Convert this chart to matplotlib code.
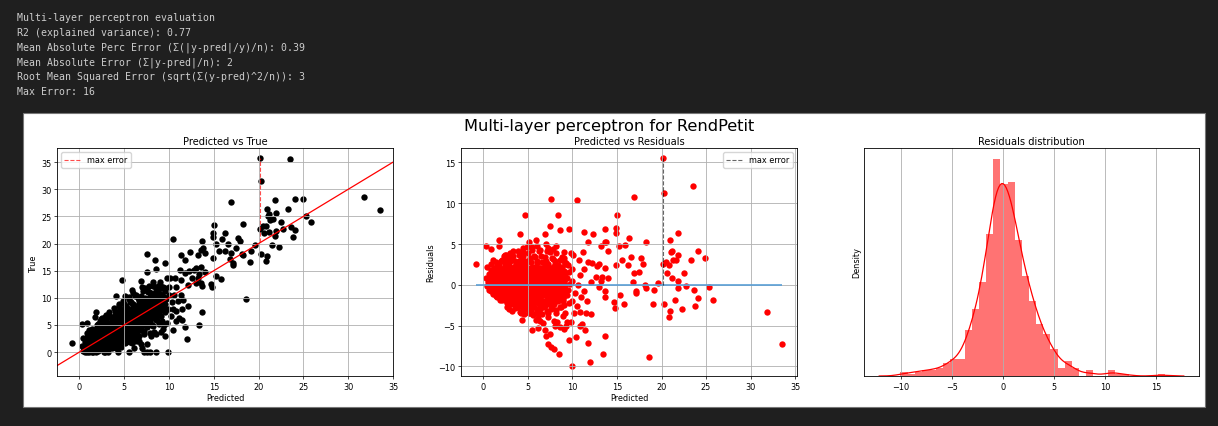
import matplotlib
matplotlib.use("Agg")
import matplotlib.pyplot as plt
from matplotlib.patches import Rectangle
import numpy as np
import seaborn as sns

# printed report above the figure
report_lines = [
    "Multi-layer perceptron evaluation",
    "R2 (explained variance): 0.77",
    "Mean Absolute Perc Error (Σ(|y-pred|/y)/n): 0.39",
    "Mean Absolute Error (Σ|y-pred|/n): 2",
    "Root Mean Squared Error (sqrt(Σ(y-pred)^2/n)): 3",
    "Max Error: 16",
]

# dense cloud, predicted vs true
pred_core = [
    0.6, 0.8, 0.4, 0.7, 0.5, 0.8, 0.3, 0.6, 0.9, 0.4, 0.7,
    1.1, 1.0, 1.2, 0.9, 1.1, 1.0, 1.2, 0.9, 1.1, 1.0, 1.2, 0.9, 1.1, 1.3,
    1.5, 1.4, 1.6, 1.5, 1.3, 1.7, 1.5, 1.4, 1.6, 1.5, 1.3, 1.7, 1.5, 1.4, 1.6,
    2.1, 1.9, 2.0, 2.2, 1.9, 2.1, 2.0, 2.2, 1.8, 2.0, 2.1, 1.9, 2.2, 2.0, 1.8, 2.1, 2.3,
    2.6, 2.4, 2.5, 2.7, 2.4, 2.6, 2.5, 2.3, 2.7, 2.5, 2.4, 2.6, 2.5, 2.3, 2.7, 2.5, 2.4, 2.6, 2.5,
    2.9, 3.1, 3.0, 2.8, 3.2, 3.0, 2.9, 3.1, 3.0, 2.8, 3.2, 3.0, 2.9, 3.1, 3.0, 2.8, 3.2, 3.0, 2.9, 3.1, 3.0,
    3.6, 3.4, 3.5, 3.7, 3.4, 3.6, 3.5, 3.3, 3.7, 3.5, 3.4, 3.6, 3.5, 3.3, 3.7, 3.5, 3.4, 3.6, 3.5, 3.3,
    4.1, 3.9, 4.0, 4.2, 3.9, 4.1, 4.0, 3.8, 4.2, 4.0, 3.9, 4.1, 4.0, 3.8, 4.2, 4.0, 3.9, 4.1, 4.0, 3.8, 4.2, 4.0, 3.9,
    4.6, 4.4, 4.5, 4.7, 4.4, 4.6, 4.5, 4.3, 4.7, 4.5, 4.4, 4.6, 4.5, 4.3, 4.7, 4.5, 4.4, 4.6, 4.5, 4.3, 4.7, 4.5, 4.4,
    5.1, 4.9, 5.0, 5.2, 4.9, 5.1, 5.0, 4.8, 5.2, 5.0, 4.9, 5.1, 5.0, 4.8, 5.2, 5.0, 4.9, 5.1, 5.0, 4.8, 5.2, 5.0, 4.9, 5.1,
    5.6, 5.4, 5.5, 5.7, 5.4, 5.6, 5.5, 5.3, 5.7, 5.5, 5.4, 5.6, 5.5, 5.3, 5.7, 5.5, 5.4, 5.6, 5.5, 5.3, 5.7, 5.5,
    6.1, 5.9, 6.0, 6.2, 5.9, 6.1, 6.0, 5.8, 6.2, 6.0, 5.9, 6.1, 6.0, 5.8, 6.2, 6.0, 5.9, 6.1, 6.0, 5.8, 6.2, 6.0,
    6.6, 6.4, 6.5, 6.7, 6.4, 6.6, 6.5, 6.3, 6.7, 6.5, 6.4, 6.6, 6.5, 6.3, 6.7, 6.5, 6.4, 6.6, 6.5, 6.3,
    7.1, 6.9, 7.0, 7.2, 6.9, 7.1, 7.0, 6.8, 7.2, 7.0, 6.9, 7.1, 7.0, 6.8, 7.2, 7.0, 6.9, 7.1,
    7.6, 7.4, 7.5, 7.7, 7.4, 7.6, 7.5, 7.3, 7.7, 7.5, 7.4, 7.6, 7.5, 7.3, 7.7, 7.5,
    8.1, 7.9, 8.0, 8.2, 7.9, 8.1, 8.0, 7.8, 8.2, 8.0, 7.9, 8.1, 8.0, 7.8, 8.2,
    8.6, 8.4, 8.5, 8.7, 8.4, 8.6, 8.5, 8.3, 8.7, 8.5, 8.4, 8.6,
    9.1, 8.9, 9.0, 9.2, 8.9, 9.1, 9.0, 8.8, 9.2, 9.0,
    9.6, 9.4, 9.5, 9.7, 9.4, 9.6, 9.5,
]
true_core = [
    0.0, 0.0, 0.2, 0.7, 0.8, 1.3, 1.2, 1.9, 2.7, 2.6, 0.4,
    0.0, 0.4, 0.9, 0.8, 1.2, 1.3, 1.8, 1.8, 2.3, 2.6, 3.3, 3.5, 4.1, 0.8,
    0.0, 0.4, 0.9, 1.1, 1.1, 1.7, 1.7, 1.8, 2.3, 2.5, 2.7, 3.5, 3.8, 4.2, 0.7,
    0.2, 0.5, 1.0, 1.5, 1.4, 1.8, 1.9, 2.3, 2.1, 2.5, 2.9, 3.0, 3.7, 3.9, 4.2, 5.1, 5.8,
    0.4, 0.7, 1.2, 1.7, 1.6, 2.0, 2.1, 2.1, 2.7, 2.7, 2.8, 3.2, 3.4, 3.5, 4.3, 4.5, 4.9, 5.7, 6.2,
    0.0, 0.7, 1.0, 1.2, 1.9, 2.0, 2.1, 2.5, 2.6, 2.6, 3.2, 3.2, 3.3, 3.8, 4.0, 4.1, 4.9, 5.2, 5.6, 6.4, 6.9,
    0.8, 1.1, 1.6, 2.2, 2.2, 2.7, 2.8, 2.8, 3.4, 3.4, 3.5, 3.9, 4.0, 4.1, 4.8, 4.9, 5.2, 5.9, 6.4, 6.8,
    0.8, 1.2, 1.8, 2.4, 2.4, 2.9, 3.0, 3.0, 3.6, 3.6, 3.7, 4.1, 4.2, 4.2, 4.8, 4.9, 5.1, 5.7, 6.0, 6.3, 7.2, 7.6, 8.1,
    1.0, 1.4, 2.0, 2.6, 2.7, 3.2, 3.4, 3.4, 4.0, 4.0, 4.1, 4.5, 4.6, 4.6, 5.2, 5.3, 5.5, 6.1, 6.4, 6.7, 7.6, 8.0, 8.4,
    1.7, 2.0, 2.5, 3.1, 3.1, 3.6, 3.8, 3.8, 4.4, 4.4, 4.5, 4.9, 5.0, 5.0, 5.7, 5.8, 6.1, 6.7, 7.1, 7.5, 8.5, 8.9, 9.5, 10.3,
    1.9, 2.3, 2.9, 3.5, 3.5, 4.0, 4.2, 4.2, 4.8, 4.8, 4.9, 5.3, 5.4, 5.4, 6.1, 6.2, 6.5, 7.2, 7.7, 8.1, 9.2, 9.8,
    2.0, 2.4, 3.1, 3.8, 3.9, 4.4, 4.6, 4.7, 5.3, 5.3, 5.4, 5.8, 5.9, 6.0, 6.7, 6.9, 7.3, 8.1, 8.7, 9.2, 10.4, 10.8,
    3.0, 3.4, 4.0, 4.7, 4.8, 5.3, 5.5, 5.5, 6.1, 6.1, 6.2, 6.6, 6.8, 6.9, 7.7, 8.0, 8.5, 9.4, 10.0, 10.6,
    3.9, 4.3, 4.9, 5.5, 5.6, 6.1, 6.3, 6.3, 6.9, 6.9, 7.1, 7.6, 7.9, 8.2, 9.2, 9.7, 10.3, 11.2,
    4.6, 5.0, 5.6, 6.2, 6.3, 6.8, 7.0, 7.1, 7.8, 7.9, 8.2, 8.9, 9.4, 9.9, 11.0, 11.5,
    5.0, 5.5, 6.2, 6.9, 7.0, 7.5, 7.7, 7.8, 8.5, 8.7, 9.1, 9.9, 10.5, 11.0, 12.1,
    5.9, 6.4, 7.1, 7.8, 7.9, 8.4, 8.7, 8.9, 9.8, 10.2, 10.8, 11.7,
    6.6, 7.2, 8.0, 8.7, 8.9, 9.6, 10.1, 10.6, 11.8, 12.3,
    7.4, 8.1, 8.9, 9.8, 10.2, 11.2, 11.9,
]

# points hidden inside the solid cloud (they give the residual histogram its shape)
pred_inner = [
    1.3, 1.6, 1.4, 1.7, 1.5, 1.3, 1.6, 1.4, 1.7, 1.5, 1.3, 1.6, 1.4, 1.7,
    1.8, 2.1, 1.9, 2.2, 2.0, 1.8, 2.1, 1.9, 2.2, 2.0, 1.8, 2.1, 1.9, 2.2, 2.0,
    2.3, 2.6, 2.4, 2.7, 2.5, 2.3, 2.6, 2.4, 2.7, 2.5, 2.3, 2.6, 2.4, 2.7,
    2.8, 3.1, 2.9, 3.2, 3.0, 2.8, 3.1, 2.9, 3.2, 3.0, 2.8, 3.1, 2.9, 3.2, 3.0,
    3.3, 3.6, 3.4, 3.7, 3.5, 3.3, 3.6, 3.4, 3.7, 3.5, 3.3, 3.6, 3.4, 3.7,
    3.8, 4.1, 3.9, 4.2, 4.0, 3.8, 4.1, 3.9, 4.2, 4.0, 3.8, 4.1, 3.9, 4.2, 4.0,
    4.3, 4.6, 4.4, 4.7, 4.5, 4.3, 4.6, 4.4, 4.7, 4.5, 4.3, 4.6, 4.4, 4.7,
    4.8, 5.1, 4.9, 5.2, 5.0, 4.8, 5.1, 4.9, 5.2, 5.0, 4.8, 5.1, 4.9, 5.2, 5.0,
    5.3, 5.6, 5.4, 5.7, 5.5, 5.3, 5.6, 5.4, 5.7, 5.5, 5.3, 5.6, 5.4, 5.7,
    5.8, 6.1, 5.9, 6.2, 6.0, 5.8, 6.1, 5.9, 6.2, 6.0, 5.8, 6.1, 5.9, 6.2, 6.0,
    6.3, 6.6, 6.4, 6.7, 6.5, 6.3, 6.6, 6.4, 6.7, 6.5, 6.3, 6.6, 6.4, 6.7,
    6.8, 7.1, 6.9, 7.2, 7.0, 6.8, 7.1, 6.9, 7.2, 7.0, 6.8, 7.1, 6.9, 7.2, 7.0,
    7.3, 7.6, 7.4, 7.7, 7.5, 7.3, 7.6, 7.4, 7.7, 7.5, 7.3, 7.6, 7.4, 7.7,
    7.8, 8.1, 7.9, 8.2, 8.0, 7.8, 8.1, 7.9, 8.2, 8.0, 7.8, 8.1, 7.9, 8.2, 8.0,
    8.3, 8.6, 8.4, 8.7, 8.5, 8.3, 8.6, 8.4, 8.7, 8.5, 8.3, 8.6, 8.4, 8.7,
    8.8, 9.1, 8.9, 9.2, 9.0, 8.8, 9.1, 8.9, 9.2, 9.0, 8.8, 9.1, 8.9, 9.2, 9.0,
]
true_inner = [
    0.45, 1.05, 1.1, 1.6, 1.75, 1.85, 2.4, 2.45, 3.0, 3.15, 3.4, 0.3, 0.0, 1.8,
    1.0, 1.6, 0.8, 2.15, 2.3, 2.4, 2.95, 2.9, 3.55, 3.7, 4.0, 0.7, 0.0, 0.7, 4.9,
    1.45, 2.05, 2.1, 2.6, 2.75, 2.85, 3.4, 3.45, 4.0, 4.15, 4.4, 1.3, 0.5, 0.0,
    2.0, 2.6, 1.8, 3.15, 3.3, 3.4, 3.95, 3.9, 4.55, 4.7, 5.0, 1.7, 0.9, 0.0, 5.9,
    2.45, 3.05, 3.1, 3.6, 3.75, 3.85, 4.4, 4.45, 5.0, 5.15, 5.4, 2.3, 1.5, 1.0,
    3.0, 3.6, 2.8, 4.15, 4.3, 4.4, 4.95, 4.9, 5.55, 5.7, 6.0, 2.7, 1.9, 0.8, 6.9,
    3.45, 4.05, 4.1, 4.6, 4.75, 4.85, 5.4, 5.45, 6.0, 6.15, 6.4, 3.3, 2.5, 2.0,
    4.0, 4.6, 3.8, 5.15, 5.3, 5.4, 5.95, 5.9, 6.55, 6.7, 7.0, 3.7, 2.9, 1.8, 7.9,
    4.45, 5.05, 5.1, 5.6, 5.75, 5.85, 6.4, 6.45, 7.0, 7.15, 7.4, 4.3, 3.5, 3.0,
    5.0, 5.6, 4.8, 6.15, 6.3, 6.4, 6.95, 6.9, 7.55, 7.7, 8.0, 4.7, 3.9, 2.8, 8.9,
    5.45, 6.05, 6.1, 6.6, 6.75, 6.85, 7.4, 7.45, 8.0, 8.15, 8.4, 5.3, 4.5, 4.0,
    6.0, 6.6, 5.8, 7.15, 7.3, 7.4, 7.95, 7.9, 8.55, 8.7, 9.0, 5.7, 4.9, 3.8, 9.9,
    6.45, 7.05, 7.1, 7.6, 7.75, 7.85, 8.4, 8.45, 9.0, 9.15, 9.4, 6.3, 5.5, 5.0,
    7.0, 7.6, 6.8, 8.15, 8.3, 8.4, 8.95, 8.9, 9.55, 9.7, 10.0, 6.7, 5.9, 4.8, 10.9,
    7.45, 8.05, 8.1, 8.6, 8.75, 8.85, 9.4, 9.45, 10.0, 10.15, 10.4, 7.3, 6.5, 6.0,
    8.0, 8.6, 7.8, 9.15, 9.3, 9.4, 9.95, 9.9, 10.55, 10.7, 11.0, 7.7, 6.9, 5.8, 11.9,
]

# scattered points around the cloud (pred < 10)
pred_low = [-0.8, 0.3, 0.9, 1.7, 1.8, 2.4, 2.9, 3.3, 4.1, 4.4, 4.7, 4.3, 5.5, 6.1, 5.9, 6.4,
            6.9, 7.2, 7.6, 7.9, 8.5, 9.9, 7.0, 7.5, 8.0, 8.3, 8.6, 9.1, 9.3, 9.4, 8.9, 7.9,
            7.2, 6.7, 5.9, 5.5, 6.9, 7.6, 7.0, 7.3, 7.8, 8.4, 8.6, 9.6, 9.3, 8.8, 8.2, 9.0, 7.5]
true_low = [1.7, 5.1, 5.3, 6.5, 7.3, 6.1, 6.5, 7.4, 10.3, 8.9, 13.2, 0.0, 0.0, 0.8, 1.6, 2.0,
            1.4, 0.0, 0.0, 0.0, 0.0, 0.0, 0.7, 1.5, 3.0, 3.7, 3.4, 3.7, 4.2, 4.9, 5.1, 3.5,
            3.3, 2.0, 11.4, 10.1, 13.1, 18.1, 12.0, 11.8, 12.2, 16.9, 15.3, 16.4, 12.0, 12.2, 13.0, 13.0, 14.7]

# pred 9.5 - 12.5
pred_mid = [12.0, 11.8, 9.6, 10.4, 11.4, 10.8, 11.1, 12.1, 11.5, 10.2, 10.8, 9.8, 10.5, 11.6,
            11.0, 11.3, 12.1, 10.0, 10.8, 11.3, 11.8, 12.2, 10.1, 11.2, 11.8, 11.3, 12.3, 10.5,
            9.8, 10.7, 10.0, 10.3, 9.9, 10.6]
true_mid = [2.5, 4.7, 2.9, 4.0, 5.9, 5.8, 6.3, 8.5, 8.0, 6.7, 7.5, 5.3, 7.9, 9.6,
            9.5, 10.5, 12.4, 10.5, 12.0, 13.3, 14.6, 14.9, 13.7, 15.2, 17.0, 17.8, 18.5, 20.9,
            13.7, 13.7, 12.0, 9.3, 7.9, 10.6]

# pred 12.5 - 20
pred_high = [13.4, 13.7, 13.7, 13.6, 13.0, 12.8, 13.0, 13.3, 13.2, 13.6, 13.8, 13.7, 14.0, 13.6,
             12.6, 13.2, 14.0, 14.7, 14.8, 14.9, 14.9, 14.9, 15.0, 15.2, 15.3, 15.6, 15.9, 16.2,
             16.3, 16.6, 15.8, 17.1, 17.1, 16.8, 16.9, 17.5, 17.7, 17.9, 16.9, 18.3, 18.1, 18.3,
             18.6, 19.0, 19.2, 19.6]
true_high = [4.9, 7.4, 12.2, 12.8, 12.7, 15.1, 15.5, 14.3, 17.9, 18.8, 19.1, 20.5, 18.2, 15.7,
             13.6, 13.7, 14.8, 12.6, 12.0, 17.3, 21.2, 21.9, 23.5, 19.9, 14.1, 18.6, 20.8, 18.6,
             22.0, 20.0, 13.4, 16.4, 16.1, 17.1, 18.3, 19.1, 21.0, 20.5, 27.7, 23.6, 18.1, 17.9,
             9.8, 16.6, 18.6, 19.8]

# pred > 20
pred_top = [20.2, 20.3, 20.2, 20.5, 20.6, 20.3, 20.8, 20.9, 20.8, 20.9, 21.1, 21.2, 21.3, 21.6,
            21.2, 21.5, 21.8, 21.9, 21.8, 21.9, 22.3, 22.5, 22.7, 23.3, 23.5, 23.6, 23.8, 24.1,
            24.1, 24.9, 25.3, 25.8, 31.8, 33.5]
true_top = [35.7, 31.5, 22.7, 23.3, 22.0, 18.0, 16.8, 17.7, 23.2, 26.4, 25.1, 25.4, 24.3, 24.6,
            22.1, 19.7, 28.1, 25.6, 21.4, 22.4, 19.3, 23.9, 22.6, 26.3, 35.6, 23.0, 21.2, 22.5,
            28.2, 28.2, 25.0, 23.9, 28.5, 26.2]

pred = np.array(pred_core + pred_inner + pred_low + pred_mid + pred_high + pred_top)
true = np.array(true_core + true_inner + true_low + true_mid + true_high + true_top)
resid = true - pred
imax = np.argmax(np.abs(resid))

W, H = 1218, 427
sc = 0.59
plt.rcParams.update({
    "font.size": 10 * sc,
    "axes.titlesize": 7.1,
    "axes.labelsize": 10 * sc,
    "xtick.labelsize": 10 * sc,
    "ytick.labelsize": 10 * sc,
    "legend.fontsize": 10 * sc,
    "axes.linewidth": 0.6,
    "xtick.major.size": 2,
    "ytick.major.size": 2,
    "xtick.major.width": 0.5,
    "ytick.major.width": 0.5,
    "xtick.major.pad": 2,
    "ytick.major.pad": 2,
    "axes.labelpad": 2,
    "axes.titlepad": 3,
})

fig = plt.figure(figsize=(W / 100, H / 100), dpi=100, facecolor="#1f1f1f")

# notebook output text
for k, line in enumerate(report_lines):
    fig.text(17 / W, 1 - (18 + 14.8 * k) / H, line, color="#cccccc", fontsize=7.1,
             family="DejaVu Sans Mono", va="center")

# white figure area
fig.add_artist(Rectangle((23 / W, (H - 408) / H), 1182 / W, 294 / H, transform=fig.transFigure,
                         facecolor="white", edgecolor="#777777", lw=0.8, zorder=0))

fig.text(0.5, 1 - 127 / H, "Multi-layer perceptron for RendPetit", fontsize=11.7,
         ha="center", va="center")

bottom = (H - 377) / H
height = 228 / H
ax1 = fig.add_axes([57 / W, bottom, 336 / W, height])
ax2 = fig.add_axes([461 / W, bottom, 336 / W, height])
ax3 = fig.add_axes([864 / W, bottom, 335 / W, height])

# predicted vs true
ax1.scatter(pred, true, s=21, c="black", linewidths=0)
ax1.set_xlim(-2.5, 35)
lims = ax1.get_xlim()
ax1.plot(lims, lims, color="red", lw=0.9)
ax1.vlines(pred[imax], pred[imax], true[imax], color="red", linestyle="--", lw=0.8,
           alpha=0.7, label="max error")
ax1.grid(True, color="#b0b0b0", lw=0.6)
ax1.set_title("Predicted vs True")
ax1.set_xlabel("Predicted")
ax1.set_ylabel("True")
ax1.legend(loc="upper left")

# predicted vs residuals
ax2.scatter(pred, resid, s=21, c="red", linewidths=0)
ax2.hlines(0, pred.min(), pred.max(), color="#5a9fd6", lw=1.2)
ax2.vlines(pred[imax], 0, resid[imax], color="black", linestyle="--", lw=0.8,
           alpha=0.6, label="max error")
ax2.grid(True, color="#b0b0b0", lw=0.6)
ax2.set_title("Predicted vs Residuals")
ax2.set_xlabel("Predicted")
ax2.set_ylabel("Residuals")
ax2.legend(loc="upper right")

# residuals distribution
ax3.hist(resid, bins=np.arange(-10.05, 16.0, 0.7), density=True, color="red", alpha=0.55,
         linewidth=0)
sns.kdeplot(x=resid, color="red", lw=0.9, ax=ax3)
ax3.grid(True, axis="x", color="#b0b0b0", lw=0.6)
ax3.set_yticks([])
ax3.set_title("Residuals distribution")
ax3.set_ylabel("Density")

fig.savefig("out.png", dpi=100, facecolor=fig.get_facecolor())
